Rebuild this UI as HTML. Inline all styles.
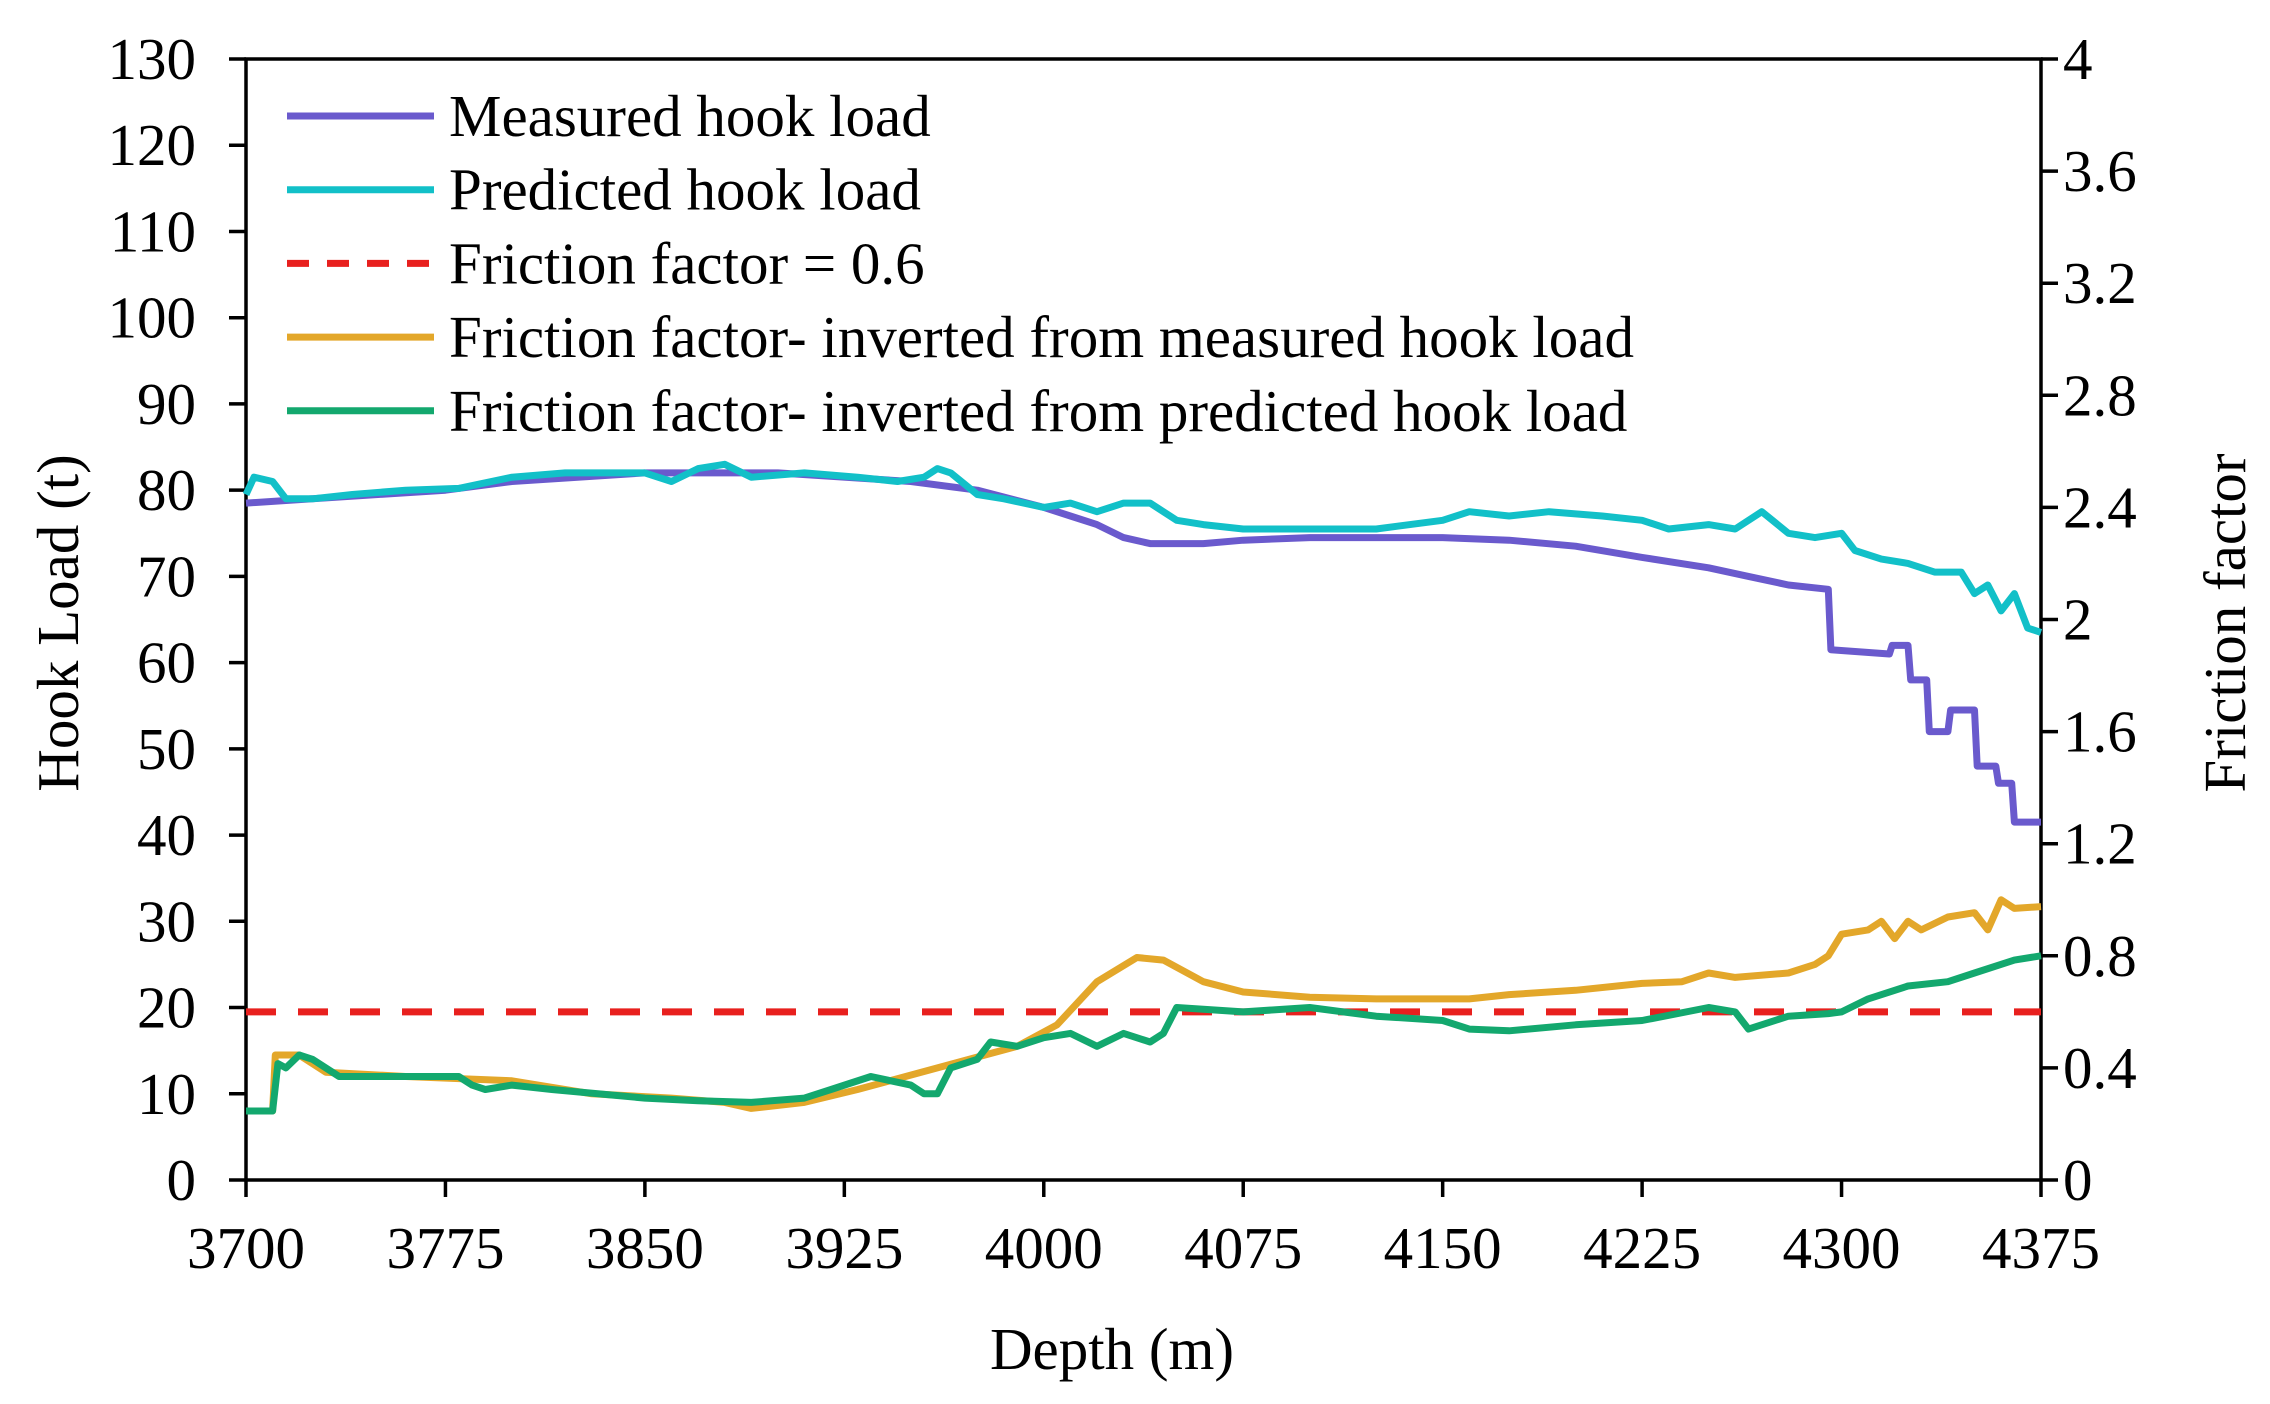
<!DOCTYPE html>
<html><head><meta charset="utf-8"><style>
html,body{margin:0;padding:0;background:#fff;}
svg{display:block;font-family:"Liberation Serif",serif;}
</style></head><body>
<svg id="chart" width="2270" height="1404" viewBox="0 0 2270 1404" xmlns="http://www.w3.org/2000/svg"></svg>
<script>
const xTicks = [3700,3775,3850,3925,4000,4075,4150,4225,4300,4375];
const yLeftTicks = [0,10,20,30,40,50,60,70,80,90,100,110,120,130];
const yRightTicks = ["0","0.4","0.8","1.2","1.6","2","2.4","2.8","3.2","3.6","4"];
const frictionConst = 0.6;
const measuredDepth = [3700,3725,3775,3800,3850,3900,3950,3975,4000,4010,4020,4030,4040,4060,4075,4100,4150,4175,4200,4225,4250,4265,4280,4295,4296,4318,4319,4325,4326,4332,4333,4340,4341,4350,4351,4358,4359,4364,4365,4375];
const measuredLoad = [78.5,79,80,81,82,82,81,80,78,77,76,74.5,73.8,73.8,74.2,74.5,74.5,74.2,73.5,72.2,71,70,69,68.5,61.5,61,62,62,58,58,52,52,54.5,54.5,48,48,46,46,41.5,41.5];
const predDepth = [3700,3703,3710,3715,3725,3740,3760,3780,3800,3820,3850,3860,3870,3880,3890,3910,3930,3945,3955,3960,3965,3975,3985,4000,4010,4020,4030,4040,4050,4060,4075,4100,4125,4150,4160,4175,4190,4210,4225,4235,4250,4260,4270,4280,4290,4300,4305,4315,4325,4335,4345,4350,4355,4360,4365,4370,4375];
const predLoad = [79.5,81.5,81,79,79,79.5,80,80.2,81.5,82,82,81,82.5,83,81.5,82,81.5,81,81.5,82.5,82,79.5,79,78,78.5,77.5,78.5,78.5,76.5,76,75.5,75.5,75.5,76.5,77.5,77,77.5,77,76.5,75.5,76,75.5,77.5,75,74.5,75,73,72,71.5,70.5,70.5,68,69,66,68,64,63.5];
const ffMeasDepth = [3700,3710,3711,3720,3730,3760,3800,3830,3860,3880,3890,3910,3930,3960,3990,4005,4020,4035,4045,4060,4075,4100,4125,4160,4175,4200,4225,4240,4250,4260,4280,4290,4295,4300,4310,4315,4320,4325,4330,4340,4350,4355,4360,4365,4375];
const ffMeasVal = [8,8,14.5,14.5,12.5,12,11.5,10,9.5,9,8.3,9,10.5,13,15.5,18,23,25.8,25.5,23,21.8,21.2,21,21,21.5,22,22.8,23,24,23.5,24,25,26,28.5,29,30,28,30,29,30.5,31,29,32.5,31.5,31.7];
const ffPredDepth = [3700,3710,3712,3715,3720,3725,3735,3760,3780,3785,3790,3800,3815,3850,3870,3890,3910,3920,3935,3950,3955,3960,3965,3975,3980,3990,4000,4010,4020,4030,4040,4045,4050,4075,4100,4125,4150,4160,4175,4200,4225,4250,4260,4265,4280,4295,4300,4310,4325,4340,4350,4365,4375];
const ffPredVal = [8,8,13.5,13,14.5,14,12,12,12,11,10.5,11,10.5,9.5,9.2,9,9.5,10.5,12,11,10,10,13,14,16,15.5,16.5,17,15.5,17,16,17,20,19.5,20,19,18.5,17.5,17.3,18,18.5,20,19.5,17.5,19,19.3,19.5,21,22.5,23,24,25.5,26];

const L=246,R=2041,T=59,B=1180;
const sx=d=>L+(d-3700)/(4375-3700)*(R-L);
const sy=v=>B-v/130*(B-T);
const syR=v=>B-v/4*(B-T);
const svg=document.getElementById('chart');
const NS='http://www.w3.org/2000/svg';
function mk(tag,attrs,parent){const e=document.createElementNS(NS,tag);for(const k in attrs)e.setAttribute(k,attrs[k]);(parent||svg).appendChild(e);return e;}
const FS=59;

let fr=mk('rect',{x:L,y:T,width:R-L,height:B-T,fill:'none',stroke:'#000','stroke-width':3.5});



xTicks.forEach(t=>{
  const x=sx(t);
  const ln=mk('line',{x1:x,y1:B,x2:x,y2:B+17,stroke:'#000','stroke-width':3.5});
  
  
  const tx=mk('text',{x:x,y:1268,'font-size':FS,'text-anchor':'middle'});
  tx.textContent=t;
  
  
});
yLeftTicks.forEach(t=>{
  const y=sy(t);
  const ln=mk('line',{x1:L-17,y1:y,x2:L,y2:y,stroke:'#000','stroke-width':3.5});
  
  
  const tx=mk('text',{x:196,y:y+20,'font-size':FS,'text-anchor':'end'});
  tx.textContent=t;
  
  
});
yRightTicks.forEach(t=>{
  const y=syR(parseFloat(t));
  const ln=mk('line',{x1:R,y1:y,x2:R+17,y2:y,stroke:'#000','stroke-width':3.5});
  
  
  const tx=mk('text',{x:2063,y:y+20,'font-size':FS,'text-anchor':'start'});
  tx.textContent=t;
  
  
});

let xt=mk('text',{x:1112,y:1369,'font-size':FS,'text-anchor':'middle'});xt.textContent='Depth (m)';


let yt=mk('text',{x:0,y:0,'font-size':FS,'text-anchor':'middle',transform:'translate(78,623) rotate(-90)'});yt.textContent='Hook Load (t)';


let yt2=mk('text',{x:0,y:0,'font-size':FS,'text-anchor':'middle',transform:'translate(2245,623) rotate(-90)'});yt2.textContent='Friction  factor';



function linePath(ds,vs){
  let p='';
  for(let i=0;i<ds.length;i++){
    const x=sx(ds[i]),y=sy(vs[i]);
    p+=(i?'L':'M')+x.toFixed(1)+' '+y.toFixed(1);
  }
  return p;
}
const ffY=sy(frictionConst*130/4);
let red=mk('line',{x1:L,y1:ffY,x2:R,y2:ffY,stroke:'#e8201e','stroke-width':7,'stroke-dasharray':'30 22'});



const series=[
  [ffMeasDepth,ffMeasVal,'#e3a72a','ff-measured-line'],
  [ffPredDepth,ffPredVal,'#13a86e','ff-predicted-line'],
  [measuredDepth,measuredLoad,'#6a5acd','measured-hook-load-line'],
  [predDepth,predLoad,'#12c0c8','predicted-hook-load-line'],
];
series.forEach(s=>{
  const p=mk('path',{d:linePath(s[0],s[1]),fill:'none',stroke:s[2],'stroke-width':7,'stroke-linejoin':'round'});
  
  
});

const legend=[
  ['Measured hook load','#6a5acd',false],
  ['Predicted hook load','#12c0c8',false],
  ['Friction factor = 0.6','#e8201e',true],
  ['Friction factor- inverted from measured hook load','#e3a72a',false],
  ['Friction factor- inverted from predicted hook load','#13a86e',false],
];
legend.forEach((l,i)=>{
  const y=116+i*73.7;
  const g=mk('g',{});
  
  
  const a={x1:287,y1:y,x2:434,y2:y,stroke:l[1],'stroke-width':7};
  if(l[2])a['stroke-dasharray']='22 18';
  mk('line',a,g);
  const t=mk('text',{x:449,y:y+20,'font-size':FS},g);
  t.textContent=l[0];
});
</script>
</body></html>
